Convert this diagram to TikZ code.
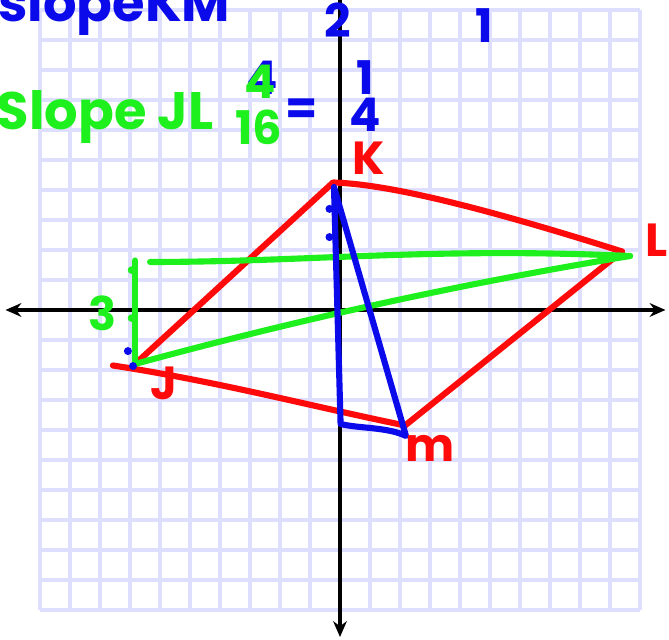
\documentclass[tikz,border=0pt]{standalone}
\usepackage{fontspec}
\setsansfont{Poppins}
\usetikzlibrary{arrows.meta}
\definecolor{gridc}{RGB}{222,222,255}
\definecolor{penred}{RGB}{255,10,10}
\definecolor{pengreen}{RGB}{30,240,30}
\definecolor{penblue}{RGB}{10,10,235}
\begin{document}
\begin{tikzpicture}[
  ink/.style={line width=5.8pt, line cap=round, line join=round},
  hw/.style={font=\sffamily\bfseries\fontsize{44}{44}\selectfont, inner sep=0pt},
  big/.style={hw, font=\sffamily\bfseries\fontsize{50}{50}\selectfont},
  axis/.style={line width=3.2pt, {Stealth[length=15pt,width=13pt]}-{Stealth[length=15pt,width=13pt]}}]
  \useasboundingbox (-11.333,-11) rectangle (10.967,10.333);
  \clip (-11.333,-11) rectangle (10.967,10.333);
  \fill[white] (-11.333,-11) rectangle (10.967,10.333);
  \draw[gridc, line width=3pt] (-10,-10) grid (10,10);
  \draw[axis] (-11.15,0) -- (10.85,0);
  \draw[axis] (0,-10.9) -- (0,10.9);
  \coordinate (J) at (-6.83,-1.8);
  \coordinate (Jt) at (-7.57,-1.85);
  \coordinate (K) at (-0.23,4.25);
  \coordinate (L) at (9.4,1.95);
  \coordinate (M) at (2.17,-3.85);
  \coordinate (Lg) at (9.67,1.8);
  \coordinate (Jtop) at (-6.83,1.65);
  \coordinate (Hs) at (-6.33,1.6);
  \coordinate (Kb) at (-0.2,4.1);
  \coordinate (Ob) at (0.02,-3.8);
  \coordinate (Mb) at (2.2,-4.2);
  \draw[ink, penred] (J) -- (K) .. controls (1.5,4.2) and (4.5,3.5) .. (L);
  \draw[ink, penred] (L) -- (M);
  \draw[ink, penred] (Jt) .. controls (-4,-2.4) and (-1,-3.2) .. (M);
  \draw[ink, pengreen] (J) -- (Jtop);
  \draw[ink, pengreen] (Hs) .. controls (-1,1.6) and (3,2.1) .. (Lg);
  \draw[ink, pengreen] (J) .. controls (-1.33,-0.3) and (4.17,0.9) .. (Lg);
  \fill[pengreen] (-6.95,1.33) circle (3.6pt) (-6.95,-0.27) circle (3.6pt);
  \draw[ink, penblue] (Kb) -- (Ob) .. controls (0.6,-3.95) and (1.6,-3.9) .. (Mb) -- (Kb);
  \fill[penblue] (-0.35,3.37) circle (3.8pt) (-0.35,2.43) circle (3.8pt)
    (-7.07,-1.37) circle (3.8pt) (-6.9,-1.87) circle (3.8pt);
  \node[big, penblue, anchor=base west] (slopeKM) at (-11.4,9.62) {slopeKM};
  \node[hw, penblue] (two) at (-0.07,9.65) {2};
  \node[hw, penblue] (one) at (4.8,9.47) {1};
  \node[big, pengreen, anchor=base west] (slopeJL) at (-11.45,6.0) {Slope JL};
  \node[hw, penblue] (num) at (-2.6,7.75) {4};
  \node[hw, pengreen] (numg) at (-2.67,7.62) {4};
  \node[hw, pengreen] (den) at (-2.7,6.1) {16};
  \node[hw, penblue] (eq) at (-1.27,6.6) {=};
  \node[hw, penblue] (n1) at (0.83,7.75) {1};
  \node[hw, penblue] (d4) at (0.83,6.5) {4};
  \node[hw, penred] (lK) at (0.95,5.05) {K};
  \node[hw, penred] (lL) at (10.55,2.33) {L};
  \node[hw, penred] (lJ) at (-5.87,-2.43) {J};
  \node[hw, penred] (lM) at (3.0,-4.6) {m};
  \node[hw, pengreen] (l3) at (-7.93,-0.1) {3};
\end{tikzpicture}
\end{document}
